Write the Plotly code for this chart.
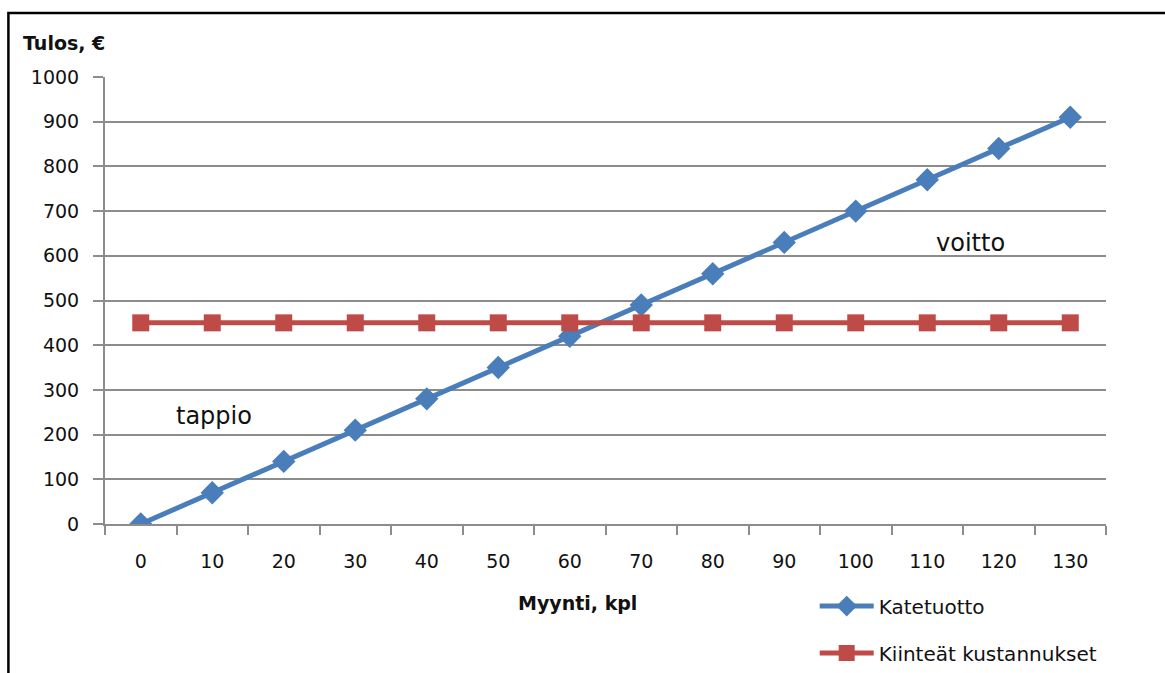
import plotly.graph_objects as go

# Sales volume (units) and the two cost/margin series
myynti = [0, 10, 20, 30, 40, 50, 60, 70, 80, 90, 100, 110, 120, 130]
katetuotto = [0, 70, 140, 210, 280, 350, 420, 490, 560, 630, 700, 770, 840, 910]
kiinteat = [450, 450, 450, 450, 450, 450, 450, 450, 450, 450, 450, 450, 450, 450]
y_ticks = [0, 100, 200, 300, 400, 500, 600, 700, 800, 900, 1000]

FONT = "'DejaVu Sans', 'Open Sans', sans-serif"
BLUE = "#4A7EBB"
RED = "#BE4B48"
GRID = "#8C8C8C"
TEXT = "#111111"

fig = go.Figure()
fig.add_trace(go.Scatter(
    x=myynti, y=katetuotto, name="Katetuotto", mode="lines+markers",
    line=dict(color=BLUE, width=5),
    marker=dict(symbol="diamond", size=18, color=BLUE),
    legend="legend", showlegend=True,
))
fig.add_trace(go.Scatter(
    x=myynti, y=kiinteat, name="Kiinteät kustannukset", mode="lines+markers",
    line=dict(color=RED, width=5),
    marker=dict(symbol="square", size=17, color=RED),
    legend="legend2", showlegend=True,
))

fig.update_layout(
    width=1165, height=673,
    margin=dict(l=105, r=59, t=77, b=149, autoexpand=False),
    paper_bgcolor="white", plot_bgcolor="white",
    showlegend=True,
    font=dict(family=FONT, size=19, color=TEXT),
    legend=dict(x=0.709, y=-0.14, xanchor="left", yanchor="top",
                font=dict(size=20), itemwidth=54, bgcolor="rgba(0,0,0,0)"),
    legend2=dict(x=0.709, y=-0.245, xanchor="left", yanchor="top",
                 font=dict(size=20), itemwidth=54, bgcolor="rgba(0,0,0,0)"),
    xaxis=dict(
        range=[-5, 135], tickvals=myynti, ticks="", showgrid=False,
        showline=True, linecolor=GRID, linewidth=2, zeroline=False,
        ticklabelstandoff=19,
        minor=dict(tick0=-5, dtick=10, ticks="outside", ticklen=9,
                   tickcolor=GRID, tickwidth=2, showgrid=False),
    ),
    yaxis=dict(
        range=[0, 1000], tickvals=y_ticks, ticks="outside", ticklen=10,
        tickcolor=GRID, tickwidth=2, showgrid=True, gridcolor=GRID,
        gridwidth=2, showline=True, linecolor=GRID, linewidth=2,
        zeroline=False, ticklabelstandoff=10,
    ),
    shapes=[dict(type="rect", xref="paper", yref="paper",
                 x0=-0.0965, x1=1.07, y0=-0.4, y1=1.143,
                 line=dict(color="black", width=2.5), layer="below")],
    annotations=[
        dict(text="<b>Tulos, €</b>", xref="paper", yref="paper",
             x=-0.084, y=1.076, xanchor="left", yanchor="middle",
             showarrow=False, font=dict(size=19)),
        dict(text="<b>Myynti, kpl</b>", xref="paper", yref="paper",
             x=0.4725, y=-0.177, xanchor="center", yanchor="middle",
             showarrow=False, font=dict(size=19)),
        dict(text="tappio", x=10.2, y=242, xref="x", yref="y",
             showarrow=False, font=dict(size=24)),
        dict(text="voitto", x=116.1, y=628, xref="x", yref="y",
             showarrow=False, font=dict(size=24)),
    ],
)

fig.write_html("out.html")
